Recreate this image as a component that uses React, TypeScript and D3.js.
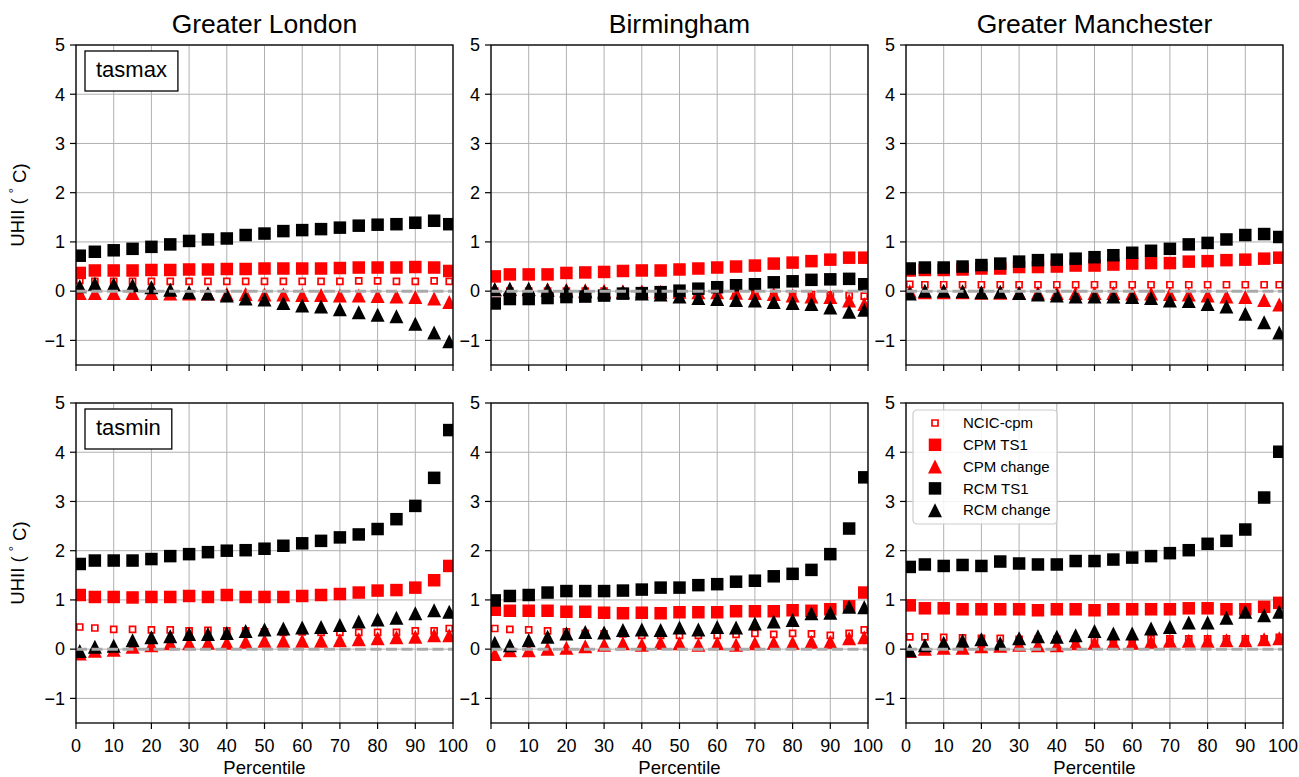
import React, { useEffect, useRef } from "react";
import * as d3 from "d3";

// percentiles sampled in every panel
const percentiles = [1, 5, 10, 15, 20, 25, 30, 35, 40, 45, 50, 55, 60, 65, 70, 75, 80, 85, 90, 95, 99];
const cities = ["Greater London", "Birmingham", "Greater Manchester"];
const variables = ["tasmax", "tasmin"];
const xTicks = [0, 10, 20, 30, 40, 50, 60, 70, 80, 90, 100];
const yTicks = [-1, 0, 1, 2, 3, 4, 5];

// Greater London, tasmax
const lonMaxNcic = [0.22, 0.2, 0.2, 0.2, 0.2, 0.2, 0.2, 0.2, 0.2, 0.2, 0.2, 0.2, 0.2, 0.2, 0.2, 0.21, 0.21, 0.2, 0.2, 0.21, 0.2];
const lonMaxCpm = [0.37, 0.42, 0.42, 0.42, 0.43, 0.43, 0.44, 0.44, 0.45, 0.45, 0.46, 0.46, 0.46, 0.46, 0.47, 0.48, 0.48, 0.48, 0.49, 0.48, 0.41];
const lonMaxCpmChg = [-0.04, -0.04, -0.04, -0.04, -0.04, -0.05, -0.05, -0.05, -0.06, -0.06, -0.07, -0.07, -0.08, -0.08, -0.09, -0.09, -0.1, -0.11, -0.12, -0.15, -0.22];
const lonMaxRcm = [0.72, 0.8, 0.83, 0.86, 0.9, 0.95, 1.02, 1.05, 1.07, 1.14, 1.17, 1.22, 1.24, 1.26, 1.29, 1.33, 1.35, 1.36, 1.39, 1.43, 1.36];
const lonMaxRcmChg = [0.1, 0.15, 0.14, 0.12, 0.08, 0.03, -0.02, -0.05, -0.09, -0.15, -0.17, -0.24, -0.29, -0.31, -0.37, -0.43, -0.48, -0.51, -0.66, -0.84, -1.02];

// Birmingham, tasmax
const birMaxNcic = [0.0, 0.0, 0.0, 0.0, 0.0, 0.0, 0.0, -0.01, -0.01, -0.01, -0.02, -0.02, -0.03, -0.03, -0.04, -0.05, -0.06, -0.07, -0.08, -0.09, -0.1];
const birMaxCpm = [0.3, 0.34, 0.34, 0.34, 0.37, 0.38, 0.39, 0.41, 0.42, 0.42, 0.44, 0.46, 0.48, 0.5, 0.52, 0.56, 0.58, 0.61, 0.64, 0.68, 0.68];
const birMaxCpmChg = [0.04, 0.04, 0.04, 0.04, 0.03, 0.02, 0.01, 0.0, 0.0, -0.01, -0.01, -0.02, -0.02, -0.03, -0.04, -0.06, -0.09, -0.11, -0.12, -0.19, -0.26];
const birMaxRcm = [-0.25, -0.16, -0.16, -0.14, -0.12, -0.11, -0.09, -0.05, -0.04, -0.02, 0.01, 0.05, 0.08, 0.12, 0.14, 0.18, 0.2, 0.23, 0.24, 0.25, 0.14];
const birMaxRcmChg = [0.04, 0.05, 0.05, 0.03, 0.01, 0.0, -0.02, -0.02, -0.05, -0.07, -0.11, -0.14, -0.16, -0.18, -0.19, -0.22, -0.24, -0.26, -0.33, -0.42, -0.38];

// Greater Manchester, tasmax
const manMaxNcic = [0.14, 0.13, 0.13, 0.13, 0.13, 0.13, 0.13, 0.13, 0.13, 0.13, 0.13, 0.13, 0.13, 0.13, 0.13, 0.13, 0.13, 0.13, 0.13, 0.13, 0.13];
const manMaxCpm = [0.42, 0.43, 0.43, 0.44, 0.46, 0.46, 0.49, 0.49, 0.5, 0.52, 0.52, 0.54, 0.56, 0.57, 0.57, 0.6, 0.61, 0.63, 0.64, 0.66, 0.68];
const manMaxCpmChg = [0.0, -0.02, -0.02, -0.02, -0.03, -0.03, -0.03, -0.03, -0.04, -0.04, -0.04, -0.04, -0.05, -0.05, -0.06, -0.07, -0.09, -0.11, -0.12, -0.18, -0.27];
const manMaxRcm = [0.46, 0.48, 0.48, 0.5, 0.53, 0.56, 0.6, 0.63, 0.64, 0.66, 0.69, 0.73, 0.78, 0.82, 0.86, 0.95, 0.98, 1.05, 1.14, 1.16, 1.1];
const manMaxRcmChg = [-0.05, 0.01, 0.01, 0.0, -0.02, -0.01, -0.04, -0.07, -0.09, -0.11, -0.11, -0.11, -0.12, -0.14, -0.19, -0.2, -0.26, -0.31, -0.46, -0.63, -0.84];

// Greater London, tasmin
const lonMinNcic = [0.45, 0.43, 0.4, 0.4, 0.39, 0.39, 0.37, 0.38, 0.37, 0.37, 0.35, 0.34, 0.35, 0.34, 0.34, 0.34, 0.34, 0.34, 0.37, 0.37, 0.42];
const lonMinCpm = [1.1, 1.06, 1.06, 1.05, 1.06, 1.06, 1.08, 1.06, 1.1, 1.06, 1.06, 1.06, 1.08, 1.1, 1.12, 1.15, 1.19, 1.2, 1.25, 1.4, 1.69];
const lonMinCpmChg = [-0.09, -0.03, -0.01, 0.05, 0.08, 0.12, 0.12, 0.13, 0.13, 0.15, 0.17, 0.17, 0.17, 0.17, 0.18, 0.2, 0.22, 0.24, 0.25, 0.28, 0.28];
const lonMinRcm = [1.73, 1.8, 1.8, 1.8, 1.83, 1.89, 1.93, 1.97, 2.0, 2.01, 2.04, 2.1, 2.15, 2.2, 2.27, 2.33, 2.44, 2.64, 2.91, 3.48, 4.45];
const lonMinRcmChg = [-0.04, 0.05, 0.07, 0.18, 0.24, 0.26, 0.31, 0.31, 0.33, 0.37, 0.4, 0.42, 0.44, 0.45, 0.49, 0.56, 0.6, 0.64, 0.73, 0.79, 0.76];

// Birmingham, tasmin
const birMinNcic = [0.42, 0.4, 0.39, 0.37, 0.35, 0.32, 0.31, 0.31, 0.28, 0.28, 0.28, 0.28, 0.28, 0.3, 0.32, 0.3, 0.32, 0.31, 0.28, 0.32, 0.39];
const birMinCpm = [0.8, 0.78, 0.78, 0.78, 0.76, 0.76, 0.74, 0.73, 0.74, 0.73, 0.75, 0.75, 0.75, 0.77, 0.77, 0.77, 0.79, 0.78, 0.81, 0.87, 1.15];
const birMinCpmChg = [-0.1, -0.02, -0.02, 0.01, 0.03, 0.06, 0.09, 0.12, 0.09, 0.13, 0.12, 0.09, 0.12, 0.09, 0.12, 0.13, 0.13, 0.15, 0.15, 0.22, 0.24];
const birMinRcm = [0.99, 1.08, 1.1, 1.15, 1.18, 1.18, 1.18, 1.19, 1.21, 1.25, 1.25, 1.3, 1.32, 1.37, 1.39, 1.48, 1.53, 1.61, 1.93, 2.45, 3.49];
const birMinRcmChg = [0.13, 0.08, 0.18, 0.25, 0.32, 0.35, 0.34, 0.39, 0.4, 0.39, 0.44, 0.4, 0.45, 0.44, 0.52, 0.56, 0.59, 0.73, 0.74, 0.86, 0.85];

// Greater Manchester, tasmin
const manMinNcic = [0.25, 0.25, 0.24, 0.23, 0.22, 0.22, 0.2, 0.2, 0.2, 0.2, 0.2, 0.2, 0.2, 0.21, 0.21, 0.21, 0.21, 0.21, 0.21, 0.21, 0.24];
const manMinCpm = [0.89, 0.83, 0.83, 0.81, 0.81, 0.81, 0.81, 0.79, 0.81, 0.81, 0.79, 0.81, 0.81, 0.81, 0.81, 0.83, 0.83, 0.81, 0.81, 0.86, 0.94];
const manMinCpmChg = [-0.04, 0.01, 0.03, 0.03, 0.06, 0.07, 0.09, 0.08, 0.08, 0.12, 0.13, 0.13, 0.13, 0.15, 0.17, 0.17, 0.17, 0.18, 0.18, 0.2, 0.22];
const manMinRcm = [1.67, 1.72, 1.69, 1.71, 1.69, 1.78, 1.74, 1.72, 1.72, 1.79, 1.79, 1.82, 1.86, 1.89, 1.95, 2.01, 2.14, 2.2, 2.43, 3.08, 4.01];
const manMinRcmChg = [-0.02, 0.08, 0.13, 0.17, 0.2, 0.12, 0.22, 0.26, 0.25, 0.28, 0.37, 0.32, 0.32, 0.42, 0.45, 0.54, 0.54, 0.64, 0.76, 0.69, 0.76];

const seriesStyles = [
  { label: "NCIC-cpm", color: "#ff0000", shape: "square", open: true },
  { label: "CPM TS1", color: "#ff0000", shape: "square", open: false },
  { label: "CPM change", color: "#ff0000", shape: "triangle", open: false },
  { label: "RCM TS1", color: "#000000", shape: "square", open: false },
  { label: "RCM change", color: "#000000", shape: "triangle", open: false },
];

// rows = variables, columns = cities
const panelData = [
  [
    [lonMaxNcic, lonMaxCpm, lonMaxCpmChg, lonMaxRcm, lonMaxRcmChg],
    [birMaxNcic, birMaxCpm, birMaxCpmChg, birMaxRcm, birMaxRcmChg],
    [manMaxNcic, manMaxCpm, manMaxCpmChg, manMaxRcm, manMaxRcmChg],
  ],
  [
    [lonMinNcic, lonMinCpm, lonMinCpmChg, lonMinRcm, lonMinRcmChg],
    [birMinNcic, birMinCpm, birMinCpmChg, birMinRcm, birMinRcmChg],
    [manMinNcic, manMinCpm, manMinCpmChg, manMinRcm, manMinRcmChg],
  ],
];

const FONT = "'Liberation Sans', Arial, Helvetica, sans-serif";
const colLeft = [76, 491, 906];
const rowTop = [45, 403];
const panelW = 377;
const panelH = 320;

function markerPath(shape: string, open: boolean) {
  if (shape === "triangle") {
    const w = 14;
    return `M0,${-w / 2}L${w / 2},${w / 2}L${-w / 2},${w / 2}Z`;
  }
  const s = open ? 6 : 12.5;
  return `M${-s / 2},${-s / 2}h${s}v${s}h${-s}Z`;
}

function App() {
  const ref = useRef<SVGSVGElement>(null);

  useEffect(() => {
    const svg = d3.select(ref.current);
    svg.selectAll("*").remove();
    svg.append("rect").attr("width", 1299).attr("height", 777).attr("fill", "#fff");

    variables.forEach((variable, r) => {
      cities.forEach((city, c) => {
        const x0 = colLeft[c];
        const y0 = rowTop[r];
        const x = d3.scaleLinear().domain([0, 100]).range([x0, x0 + panelW]);
        const y = d3.scaleLinear().domain([-1.5, 5]).range([y0 + panelH, y0]);
        const g = svg.append("g");
        const clipId = `clip-${r}-${c}`;
        g.append("clipPath").attr("id", clipId)
          .append("rect").attr("x", x0).attr("y", y0).attr("width", panelW).attr("height", panelH);

        // grid
        g.selectAll(".vgrid").data(xTicks).enter().append("line")
          .attr("x1", d => x(d)).attr("x2", d => x(d))
          .attr("y1", y0).attr("y2", y0 + panelH)
          .attr("stroke", "#b0b0b0").attr("stroke-width", 1);
        g.selectAll(".hgrid").data(yTicks).enter().append("line")
          .attr("x1", x0).attr("x2", x0 + panelW)
          .attr("y1", d => y(d)).attr("y2", d => y(d))
          .attr("stroke", "#b0b0b0").attr("stroke-width", 1);

        const plot = g.append("g").attr("clip-path", `url(#${clipId})`);
        panelData[r][c].forEach((values, si) => {
          const st = seriesStyles[si];
          plot.append("g").selectAll("path")
            .data(values)
            .enter().append("path")
            .attr("transform", (d, i) => `translate(${x(percentiles[i])},${y(d)})`)
            .attr("d", markerPath(st.shape, st.open))
            .attr("fill", st.open ? "#fff" : st.color)
            .attr("stroke", st.open ? st.color : "none")
            .attr("stroke-width", st.open ? 1.7 : 0);
        });

        // zero line
        plot.append("line")
          .attr("x1", x(0)).attr("x2", x(100))
          .attr("y1", y(0)).attr("y2", y(0))
          .attr("stroke", "#aaaaaa").attr("stroke-width", 3)
          .attr("stroke-dasharray", "11,4.5");

        // spines
        g.append("rect")
          .attr("x", x0).attr("y", y0).attr("width", panelW).attr("height", panelH)
          .attr("fill", "none").attr("stroke", "#000").attr("stroke-width", 1.3);

        // ticks
        g.selectAll(".yt").data(yTicks).enter().append("line")
          .attr("x1", x0 - 6).attr("x2", x0)
          .attr("y1", d => y(d)).attr("y2", d => y(d))
          .attr("stroke", "#000").attr("stroke-width", 1.2);
        g.selectAll(".ytl").data(yTicks).enter().append("text")
          .attr("x", x0 - 11).attr("y", d => y(d))
          .attr("dy", "0.35em")
          .attr("text-anchor", "end")
          .style("font-family", FONT).style("font-size", "18px")
          .text(d => (d < 0 ? "\u2212" + Math.abs(d) : String(d)));
        g.selectAll(".xt").data(xTicks).enter().append("line")
          .attr("x1", d => x(d)).attr("x2", d => x(d))
          .attr("y1", y0 + panelH).attr("y2", y0 + panelH + 6)
          .attr("stroke", "#000").attr("stroke-width", 1.2);

        if (r === 1) {
          g.selectAll(".xtl").data(xTicks).enter().append("text")
            .attr("x", d => x(d)).attr("y", y0 + panelH + 29)
            .attr("text-anchor", "middle")
            .style("font-family", FONT).style("font-size", "18px")
            .text(d => String(d));
          g.append("text")
            .attr("x", x0 + panelW / 2).attr("y", 774)
            .attr("text-anchor", "middle")
            .style("font-family", FONT).style("font-size", "18.5px")
            .text("Percentile");
        }
        if (r === 0) {
          g.append("text")
            .attr("x", x0 + panelW / 2).attr("y", 33)
            .attr("text-anchor", "middle")
            .style("font-family", FONT).style("font-size", "26.5px")
            .text(city);
        }
        if (c === 0) {
          const lab = g.append("text")
            .attr("transform", `translate(24,${y0 + panelH / 2}) rotate(-90)`)
            .attr("text-anchor", "middle")
            .style("font-family", FONT).style("font-size", "18.5px");
          lab.append("tspan").text("UHII ( ");
          lab.append("tspan").attr("dy", "-0.45em").style("font-size", "13px").text("\u00b0");
          lab.append("tspan").attr("dy", "0.45em").text(" C)");

          // variable label box
          const t = g.append("text")
            .attr("x", x0 + 20).attr("y", y0 + 32)
            .style("font-family", FONT).style("font-size", "22px")
            .text(variable);
          const tw = (t.node() as SVGTextElement).getComputedTextLength();
          g.append("rect")
            .attr("x", x0 + 9).attr("y", y0 + 6)
            .attr("width", tw + 22).attr("height", 40)
            .attr("fill", "#fff").attr("stroke", "#000").attr("stroke-width", 1.3);
          t.raise();
        }

        // legend
        if (r === 1 && c === 2) {
          const lg = g.append("g").attr("transform", `translate(${x0 + 7},${y0 + 7})`);
          lg.append("rect")
            .attr("width", 144).attr("height", 114).attr("rx", 4)
            .attr("fill", "#fff").attr("fill-opacity", 0.85)
            .attr("stroke", "#cccccc").attr("stroke-width", 1.2);
          seriesStyles.forEach((st, i) => {
            const yy = 13 + i * 21.8;
            lg.append("path")
              .attr("transform", `translate(22,${yy})`)
              .attr("d", markerPath(st.shape, st.open))
              .attr("fill", st.open ? "#fff" : st.color)
              .attr("stroke", st.open ? st.color : "none")
              .attr("stroke-width", st.open ? 1.7 : 0);
            lg.append("text")
              .attr("x", 50).attr("y", yy).attr("dy", "0.35em")
              .style("font-family", FONT).style("font-size", "15px")
              .text(st.label);
          });
        }
      });
    });
  }, []);

  return (
    <svg ref={ref} width={1299} height={777}
      style={{ position: "absolute", left: 0, top: 0, display: "block" }} />
  );
}

export default App;
